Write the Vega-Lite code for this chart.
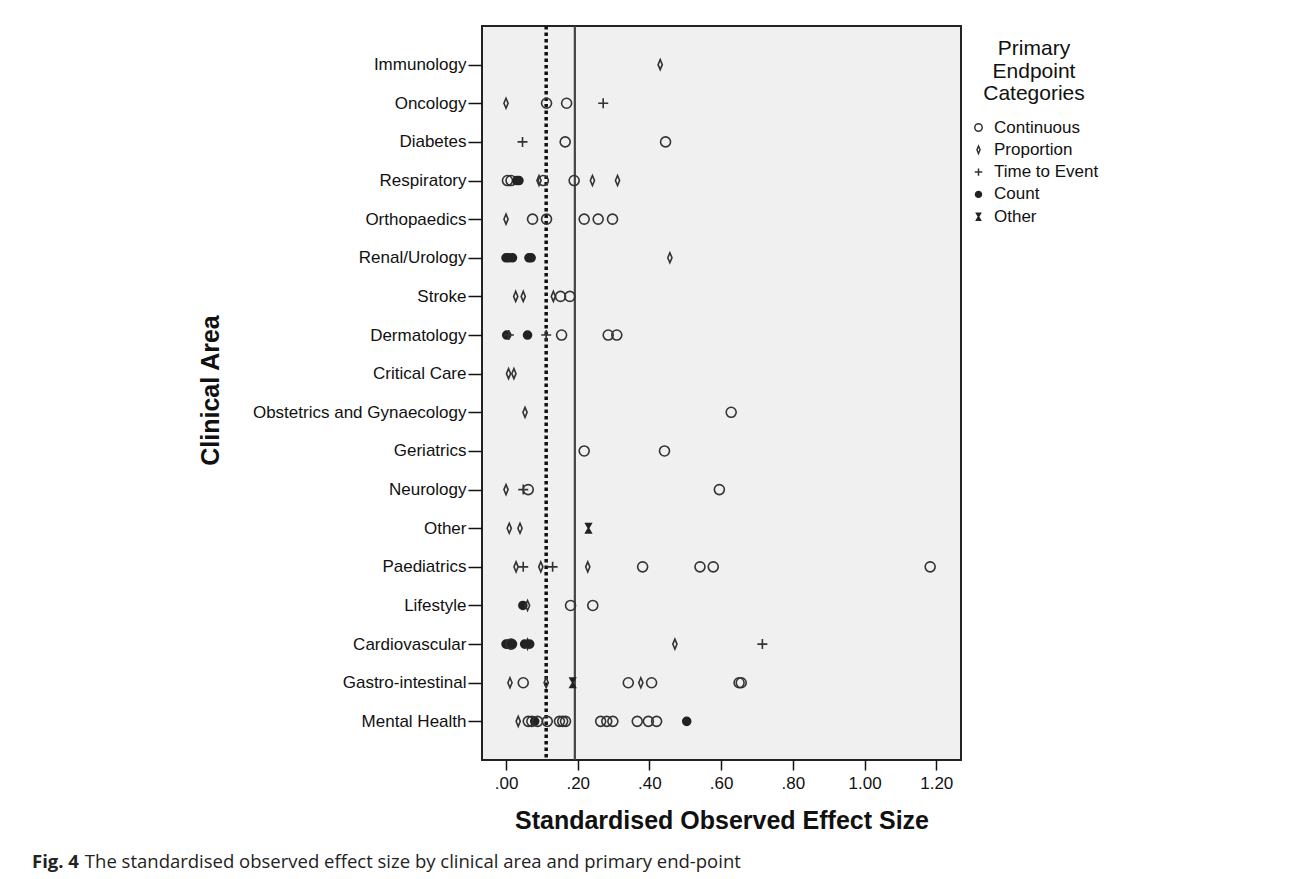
{
  "$schema": "https://vega.github.io/schema/vega-lite/v6.json",
  "autosize": {"type": "none"},
  "width": 479,
  "height": 734,
  "padding": {"left": 482, "top": 26, "right": 331, "bottom": 119},
  "background": "white",
  "config": {
    "view": {"fill": "#f0f0f0", "stroke": "#222", "strokeWidth": 2},
    "font": "Liberation Sans"
  },
  "title": {
    "text": "Fig. 4",
    "subtitle": "\u200b\u00a0\u00a0\u00a0\u00a0\u00a0\u00a0\u00a0\u00a0\u00a0\u00a0\u00a0The standardised observed effect size by clinical area and primary end-point",
    "orient": "bottom",
    "anchor": "start",
    "frame": "group",
    "dx": -450,
    "offset": 20,
    "font": "Open Sans",
    "fontSize": 18.5,
    "fontWeight": "bold",
    "color": "#222",
    "subtitleFont": "Open Sans",
    "subtitleFontSize": 18.5,
    "subtitleFontWeight": "normal",
    "subtitleColor": "#222",
    "subtitlePadding": -18.5
  },
  "datasets": {
    "refs": [
      {"line": "dotted", "effect": 0.112},
      {"line": "solid", "effect": 0.192}
    ],
    "points": [
      {"area": "Immunology", "type": "Proportion", "effect": 0.430},
      {"area": "Oncology", "type": "Proportion", "effect": 0.000},
      {"area": "Oncology", "type": "Continuous", "effect": 0.113},
      {"area": "Oncology", "type": "Continuous", "effect": 0.169},
      {"area": "Oncology", "type": "Time to Event", "effect": 0.271},
      {"area": "Diabetes", "type": "Time to Event", "effect": 0.046},
      {"area": "Diabetes", "type": "Continuous", "effect": 0.165},
      {"area": "Diabetes", "type": "Continuous", "effect": 0.445},
      {"area": "Respiratory", "type": "Continuous", "effect": 0.004},
      {"area": "Respiratory", "type": "Continuous", "effect": 0.014},
      {"area": "Respiratory", "type": "Count", "effect": 0.030},
      {"area": "Respiratory", "type": "Count", "effect": 0.036},
      {"area": "Respiratory", "type": "Proportion", "effect": 0.092},
      {"area": "Respiratory", "type": "Continuous", "effect": 0.104},
      {"area": "Respiratory", "type": "Continuous", "effect": 0.190},
      {"area": "Respiratory", "type": "Proportion", "effect": 0.241},
      {"area": "Respiratory", "type": "Proportion", "effect": 0.311},
      {"area": "Orthopaedics", "type": "Proportion", "effect": 0.000},
      {"area": "Orthopaedics", "type": "Continuous", "effect": 0.074},
      {"area": "Orthopaedics", "type": "Continuous", "effect": 0.113},
      {"area": "Orthopaedics", "type": "Continuous", "effect": 0.218},
      {"area": "Orthopaedics", "type": "Continuous", "effect": 0.257},
      {"area": "Orthopaedics", "type": "Continuous", "effect": 0.297},
      {"area": "Renal/Urology", "type": "Count", "effect": 0.000},
      {"area": "Renal/Urology", "type": "Count", "effect": 0.008},
      {"area": "Renal/Urology", "type": "Count", "effect": 0.018},
      {"area": "Renal/Urology", "type": "Count", "effect": 0.064},
      {"area": "Renal/Urology", "type": "Count", "effect": 0.070},
      {"area": "Renal/Urology", "type": "Proportion", "effect": 0.457},
      {"area": "Stroke", "type": "Proportion", "effect": 0.027},
      {"area": "Stroke", "type": "Proportion", "effect": 0.048},
      {"area": "Stroke", "type": "Proportion", "effect": 0.132},
      {"area": "Stroke", "type": "Continuous", "effect": 0.152},
      {"area": "Stroke", "type": "Continuous", "effect": 0.178},
      {"area": "Dermatology", "type": "Count", "effect": 0.002},
      {"area": "Dermatology", "type": "Time to Event", "effect": 0.008},
      {"area": "Dermatology", "type": "Count", "effect": 0.060},
      {"area": "Dermatology", "type": "Time to Event", "effect": 0.112},
      {"area": "Dermatology", "type": "Continuous", "effect": 0.155},
      {"area": "Dermatology", "type": "Continuous", "effect": 0.285},
      {"area": "Dermatology", "type": "Continuous", "effect": 0.309},
      {"area": "Critical Care", "type": "Proportion", "effect": 0.007},
      {"area": "Critical Care", "type": "Proportion", "effect": 0.022},
      {"area": "Obstetrics and Gynaecology", "type": "Proportion", "effect": 0.053},
      {"area": "Obstetrics and Gynaecology", "type": "Continuous", "effect": 0.628},
      {"area": "Geriatrics", "type": "Continuous", "effect": 0.218},
      {"area": "Geriatrics", "type": "Continuous", "effect": 0.442},
      {"area": "Neurology", "type": "Proportion", "effect": 0.000},
      {"area": "Neurology", "type": "Time to Event", "effect": 0.048},
      {"area": "Neurology", "type": "Continuous", "effect": 0.062},
      {"area": "Neurology", "type": "Continuous", "effect": 0.595},
      {"area": "Other", "type": "Proportion", "effect": 0.009},
      {"area": "Other", "type": "Proportion", "effect": 0.039},
      {"area": "Other", "type": "Other", "effect": 0.230},
      {"area": "Paediatrics", "type": "Proportion", "effect": 0.028},
      {"area": "Paediatrics", "type": "Time to Event", "effect": 0.048},
      {"area": "Paediatrics", "type": "Proportion", "effect": 0.097},
      {"area": "Paediatrics", "type": "Time to Event", "effect": 0.130},
      {"area": "Paediatrics", "type": "Proportion", "effect": 0.228},
      {"area": "Paediatrics", "type": "Continuous", "effect": 0.381},
      {"area": "Paediatrics", "type": "Continuous", "effect": 0.541},
      {"area": "Paediatrics", "type": "Continuous", "effect": 0.578},
      {"area": "Paediatrics", "type": "Continuous", "effect": 1.183},
      {"area": "Lifestyle", "type": "Count", "effect": 0.047},
      {"area": "Lifestyle", "type": "Proportion", "effect": 0.060},
      {"area": "Lifestyle", "type": "Continuous", "effect": 0.180},
      {"area": "Lifestyle", "type": "Continuous", "effect": 0.242},
      {"area": "Cardiovascular", "type": "Count", "effect": 0.000},
      {"area": "Cardiovascular", "type": "Count", "effect": 0.006},
      {"area": "Cardiovascular", "type": "Continuous", "effect": 0.014},
      {"area": "Cardiovascular", "type": "Count", "effect": 0.018},
      {"area": "Cardiovascular", "type": "Count", "effect": 0.052},
      {"area": "Cardiovascular", "type": "Proportion", "effect": 0.060},
      {"area": "Cardiovascular", "type": "Count", "effect": 0.066},
      {"area": "Cardiovascular", "type": "Proportion", "effect": 0.471},
      {"area": "Cardiovascular", "type": "Time to Event", "effect": 0.715},
      {"area": "Gastro-intestinal", "type": "Proportion", "effect": 0.011},
      {"area": "Gastro-intestinal", "type": "Continuous", "effect": 0.048},
      {"area": "Gastro-intestinal", "type": "Proportion", "effect": 0.112},
      {"area": "Gastro-intestinal", "type": "Other", "effect": 0.186},
      {"area": "Gastro-intestinal", "type": "Continuous", "effect": 0.341},
      {"area": "Gastro-intestinal", "type": "Proportion", "effect": 0.376},
      {"area": "Gastro-intestinal", "type": "Continuous", "effect": 0.406},
      {"area": "Gastro-intestinal", "type": "Continuous", "effect": 0.650},
      {"area": "Gastro-intestinal", "type": "Continuous", "effect": 0.656},
      {"area": "Mental Health", "type": "Proportion", "effect": 0.034},
      {"area": "Mental Health", "type": "Continuous", "effect": 0.062},
      {"area": "Mental Health", "type": "Continuous", "effect": 0.072},
      {"area": "Mental Health", "type": "Count", "effect": 0.080},
      {"area": "Mental Health", "type": "Continuous", "effect": 0.088},
      {"area": "Mental Health", "type": "Continuous", "effect": 0.115},
      {"area": "Mental Health", "type": "Continuous", "effect": 0.149},
      {"area": "Mental Health", "type": "Continuous", "effect": 0.158},
      {"area": "Mental Health", "type": "Continuous", "effect": 0.166},
      {"area": "Mental Health", "type": "Continuous", "effect": 0.264},
      {"area": "Mental Health", "type": "Continuous", "effect": 0.281},
      {"area": "Mental Health", "type": "Continuous", "effect": 0.298},
      {"area": "Mental Health", "type": "Continuous", "effect": 0.366},
      {"area": "Mental Health", "type": "Continuous", "effect": 0.397},
      {"area": "Mental Health", "type": "Continuous", "effect": 0.420},
      {"area": "Mental Health", "type": "Count", "effect": 0.504}
    ]
  },
  "layer": [
    {
      "data": {"name": "refs"},
      "transform": [{"filter": "datum.line === 'dotted'"}],
      "mark": {"type": "rule", "strokeDash": [3.5, 3], "strokeWidth": 3.5, "color": "#111"},
      "encoding": {
        "x": {"field": "effect", "type": "quantitative", "title": "Standardised Observed Effect Size",
              "scale": {"domain": [-0.067, 1.269], "nice": false, "zero": false}}
      }
    },
    {
      "data": {"name": "refs"},
      "transform": [{"filter": "datum.line === 'solid'"}],
      "mark": {"type": "rule", "strokeWidth": 2.2, "color": "#444"},
      "encoding": {
        "x": {"field": "effect", "type": "quantitative", "title": "Standardised Observed Effect Size",
              "scale": {"domain": [-0.067, 1.269], "nice": false, "zero": false}}
      }
    },
    {
      "data": {"name": "points"},
      "mark": {"type": "point", "filled": true, "size": 100, "strokeWidth": 1.6, "opacity": 1, "strokeOpacity": 1, "fillOpacity": 1},
      "encoding": {
        "x": {
          "field": "effect", "type": "quantitative", "title": "Standardised Observed Effect Size",
          "scale": {"domain": [-0.067, 1.269], "nice": false, "zero": false},
          "axis": {
            "values": [0, 0.2, 0.4, 0.6, 0.8, 1.0, 1.2],
            "labelExpr": "datum.value < 1 ? substring(format(datum.value, '.2f'), 1) : format(datum.value, '.2f')",
            "grid": false, "domain": false,
            "tickSize": 10, "tickWidth": 1.5, "tickColor": "#111",
            "labelFontSize": 17, "labelColor": "#111", "labelPadding": 5,
            "titleFontSize": 25, "titleFontWeight": "bold", "titleColor": "#111", "titlePadding": 17
          }
        },
        "y": {
          "field": "area", "type": "nominal",
          "scale": {"type": "point", "padding": 1.5,
            "domain": ["Immunology", "Oncology", "Diabetes", "Respiratory", "Orthopaedics", "Renal/Urology", "Stroke", "Dermatology", "Critical Care", "Obstetrics and Gynaecology", "Geriatrics", "Neurology", "Other", "Paediatrics", "Lifestyle", "Cardiovascular", "Gastro-intestinal", "Mental Health"]},
          "axis": {
            "title": "Clinical Area", "grid": false, "domain": false,
            "tickSize": 14, "tickWidth": 1.5, "tickColor": "#111",
            "labelFontSize": 17, "labelColor": "#111", "labelPadding": 2, "labelLimit": 0,
            "titleFontSize": 25, "titleFontWeight": "bold", "titleColor": "#111",
            "titleAngle": -90, "titleX": -272, "titleY": 364, "titleAlign": "center", "titleBaseline": "middle"
          }
        },
        "shape": {
          "field": "type", "type": "nominal",
          "scale": {
            "domain": ["Continuous", "Proportion", "Time to Event", "Count", "Other"],
            "range": ["circle", "M0,-1L0.42,0L0,1L-0.42,0Z", "M-1,0L1,0M0,-1L0,1", "M-0.8,0A0.8,0.8 0 1,0 0.8,0A0.8,0.8 0 1,0 -0.8,0Z", "M-0.55,-0.95L0.55,-0.95L-0.55,0.95L0.55,0.95Z"]
          },
          "legend": {
            "title": ["Primary", "Endpoint", "Categories"],
            "orient": "none", "legendX": 488, "legendY": 12, "padding": 0,
            "titleFontSize": 21, "titleFontWeight": "normal", "titleColor": "#111", "titleLineHeight": 22.5,
            "titleAlign": "center", "titleAnchor": "middle", "titlePadding": 15,
            "labelFontSize": 17, "labelColor": "#111", "labelOffset": 7,
            "symbolSize": 55, "symbolStrokeWidth": 1.5,
            "rowPadding": 4.3
          }
        },
        "fill": {
          "field": "type", "type": "nominal",
          "scale": {
            "domain": ["Continuous", "Proportion", "Time to Event", "Count", "Other"],
            "range": ["transparent", "transparent", "transparent", "#222", "#222"]
          },
          "legend": {"title": ["Primary", "Endpoint", "Categories"]}
        },
        "stroke": {
          "field": "type", "type": "nominal",
          "scale": {
            "domain": ["Continuous", "Proportion", "Time to Event", "Count", "Other"],
            "range": ["#333", "#333", "#333", "#222", "#222"]
          },
          "legend": {"title": ["Primary", "Endpoint", "Categories"]}
        }
      }
    }
  ]
}
